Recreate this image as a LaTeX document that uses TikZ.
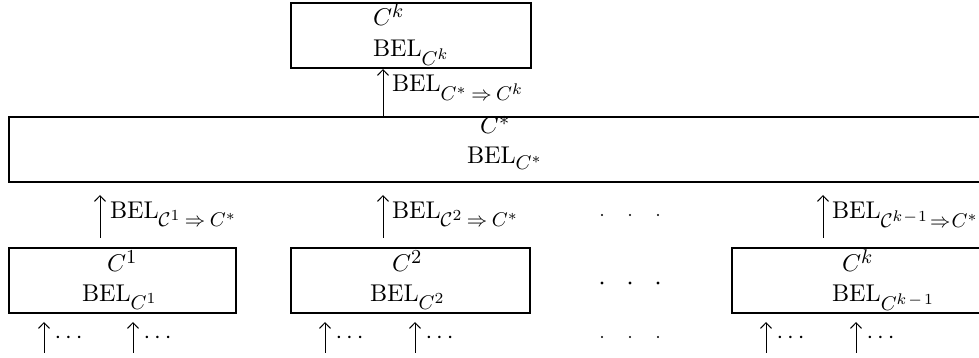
\RequirePackage{fix-cm}
\documentclass[tikz,border=0pt]{standalone}
\usetikzlibrary{arrows.meta}
\DeclareMathSizes{11}{11}{9}{7}
\newcommand\impl{\mskip4mu\Rightarrow\mskip4mu}
\newcommand\implb{\mskip2mu\Rightarrow\mskip1mu}
\begin{document}
\begin{tikzpicture}[x=0.4545pt,y=-0.4545pt,
  bx/.style 2 args={draw,line width=1pt,inner sep=0pt,outer sep=0pt,minimum width=#1*0.4545pt,minimum height=#2*0.4545pt},
  arr/.style={line width=0.45pt,-{Straight Barb[length=2.6pt,width=5pt]}},
  tx/.style={anchor=base west,inner sep=0pt,outer sep=0pt,font=\fontsize{11}{13}\selectfont}]
\useasboundingbox (0,0) rectangle (979,358);
\clip (0,0) rectangle (979,358);
% boxes
\node[bx={240}{65}] (top) at (411,35.5) {};
\node[bx={979}{65}] (big) at (498.5,149.5) {};
\node[bx={227}{65}] (box1) at (122.5,280.5) {};
\node[bx={239}{65}] (box2) at (410.5,280.5) {};
\node[bx={274}{65}] (box3) at (869,280.5) {};
\coordinate (topS) at (383,69);
\coordinate (bigN) at (383,117);
% texts
\node[tx] (tc) at (373,26) {$C^k$};
\node[tx] (tb) at (373,57) {$\mathrm{BEL}_{C^k}$};
\node[tx] (sc) at (480,134) {$C^*$};
\node[tx] (sb) at (467,164) {$\mathrm{BEL}_{C^*}$};
\node[tx] (c1) at (107,272) {$C^1$};
\node[tx] (b1) at (82,302) {$\mathrm{BEL}_{C^1}$};
\node[tx] (c2) at (392,272) {$C^2$};
\node[tx] (b2) at (370,302) {$\mathrm{BEL}_{C^2}$};
\node[tx] (c3) at (842,272) {$C^k$};
\node[tx] (b3) at (832,302) {$\mathrm{BEL}_{C^{k\mskip2mu-\mskip2mu1}}$};
% top arrow
\draw[arr] (bigN) -- (topS);
\node[tx] (lt) at (392,92) {$\mathrm{BEL}_{C^*\impl C^k}$};
% middle arrows
\coordinate (m1s) at (100,238); \coordinate (m1e) at (100,195);
\coordinate (m2s) at (383,238); \coordinate (m2e) at (383,195);
\coordinate (m3s) at (823,238); \coordinate (m3e) at (823,195);
\draw[arr] (m1s) -- (m1e);
\draw[arr] (m2s) -- (m2e);
\draw[arr] (m3s) -- (m3e);
\node[tx] (l1) at (110,219) {$\mathrm{BEL}_{\mathcal{C}^1\impl C^*}$};
\node[tx] (l2) at (392,219) {$\mathrm{BEL}_{\mathcal{C}^2\impl C^*}$};
\node[tx] (l3) at (832,219) {$\mathrm{BEL}_{\mathcal{C}^{k\mskip1mu-\mskip1mu1}\implb C^*}$};
% bottom arrows
\foreach \x [count=\i] in {44,133,325,415,766,856}{
  \coordinate (b\i s) at (\x,353);
  \coordinate (b\i e) at (\x,322);
  \draw[arr] (b\i s) -- (b\i e);
  \node[tx] (d\i) at (\x+10.5,344) {$\cdots$};
}
% dots between
\foreach \x in {602,630,658}{
  \fill (\x,215) circle (0.5pt);
  \fill (\x,283) circle (0.75pt);
  \fill (\x,337) circle (0.5pt);
}
\end{tikzpicture}
\end{document}
